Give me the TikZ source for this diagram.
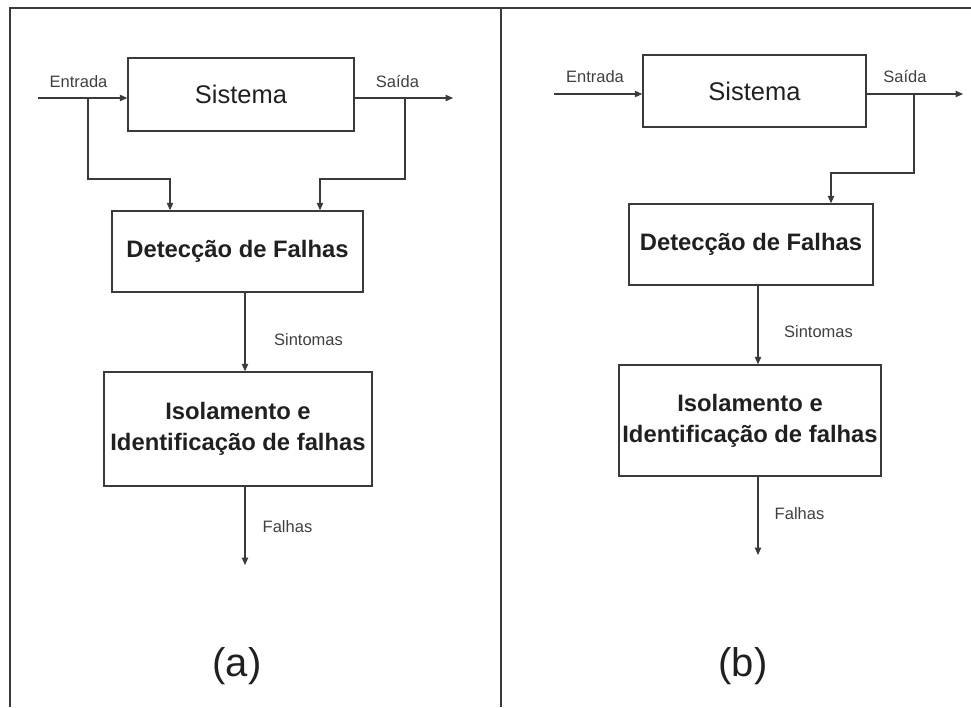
\documentclass[tikz,border=0pt]{standalone}
\usepackage{fontspec}
\setmainfont{Liberation Sans}
\usetikzlibrary{arrows.meta}
\definecolor{ln}{HTML}{3A3A3A}
\definecolor{tx}{HTML}{202020}
\definecolor{lb}{HTML}{404040}
\tikzset{
  blk/.style={draw=ln, line width=1.5pt, inner sep=0pt, align=center, text=tx},
  sig/.style={draw=ln, line width=1.1pt, -{Triangle[length=7.5pt,width=6.5pt]}},
  wire/.style={draw=ln, line width=1.1pt},
  lbl/.style={inner sep=0pt, text=lb, font=\fontsize{16.5}{18}\selectfont},
  big/.style={font=\fontsize{23.8}{31}\selectfont\bfseries},
  frame/.style={draw=ln, line width=2pt}
}
\begin{document}
\begin{tikzpicture}[x=1pt,y=-1pt]
\useasboundingbox (0,0) rectangle (971,707);
% frame
\coordinate (f1) at (10,707);
\coordinate (f2) at (10,8);
\coordinate (f3) at (971,8);
\coordinate (f4) at (501,8);
\coordinate (f5) at (501,707);
\draw[frame] (f1) -- (f2) -- (f3);
\draw[frame] (f4) -- (f5);

% ---------- panel (a) ----------
\node[blk, minimum width=226pt, minimum height=73pt, font=\fontsize{25.5}{30}\selectfont] (sysA) at (241,94.5) {Sistema};
\node[blk, big, minimum width=251pt, minimum height=81pt] (detA) at (237.5,251.5) {Detecção de Falhas};
\node[blk, big, minimum width=268pt, minimum height=114pt] (isoA) at (238,429) {Isolamento e\\Identificação de falhas};

\coordinate (inA) at (38,98);
\coordinate (outA) at (453,98);
\coordinate (bA1) at (88,98);
\coordinate (bA2) at (88,179);
\coordinate (bA3) at (170,179);
\coordinate (cA1) at (405,98);
\coordinate (cA2) at (405,179);
\coordinate (cA3) at (320,179);
\coordinate (xA) at (245,0);
\coordinate (endA) at (245,565);

\draw[sig] (inA) -- (sysA.west |- inA);
\draw[sig] (sysA.east |- outA) -- (outA);
\draw[sig] (bA1) -- (bA2) -- (bA3) -- (bA3 |- detA.north);
\draw[sig] (cA1) -- (cA2) -- (cA3) -- (cA3 |- detA.north);
\draw[sig] (detA.south -| xA) -- (isoA.north -| xA);
\draw[sig] (isoA.south -| xA) -- (endA);

\node[lbl] (entA) at (78.5,82) {Entrada};
\node[lbl] (saiA) at (397.5,82) {Saída};
\node[lbl] (sinA) at (308.5,340) {Sintomas};
\node[lbl] (falA) at (287.5,527) {Falhas};
\node[text=tx, font=\fontsize{40}{44}\selectfont] (capA) at (237,666) {(a)};

% ---------- panel (b) ----------
\node[blk, minimum width=223pt, minimum height=72pt, font=\fontsize{25.5}{30}\selectfont] (sysB) at (754.5,91) {Sistema};
\node[blk, big, minimum width=244pt, minimum height=81pt] (detB) at (751,244.5) {Detecção de Falhas};
\node[blk, big, minimum width=262pt, minimum height=111pt] (isoB) at (750,420.5) {Isolamento e\\Identificação de falhas};

\coordinate (inB) at (554,94);
\coordinate (outB) at (963,94);
\coordinate (cB1) at (914,94);
\coordinate (cB2) at (914,173);
\coordinate (cB3) at (831,173);
\coordinate (xB) at (758,0);
\coordinate (endB) at (758,555);

\draw[sig] (inB) -- (sysB.west |- inB);
\draw[sig] (sysB.east |- outB) -- (outB);
\draw[sig] (cB1) -- (cB2) -- (cB3) -- (cB3 |- detB.north);
\draw[sig] (detB.south -| xB) -- (isoB.north -| xB);
\draw[sig] (isoB.south -| xB) -- (endB);

\node[lbl] (entB) at (595,77) {Entrada};
\node[lbl] (saiB) at (905,77) {Saída};
\node[lbl] (sinB) at (818.5,332) {Sintomas};
\node[lbl] (falB) at (799.5,514) {Falhas};
\node[text=tx, font=\fontsize{40}{44}\selectfont] (capB) at (743,666) {(b)};
\end{tikzpicture}
\end{document}
